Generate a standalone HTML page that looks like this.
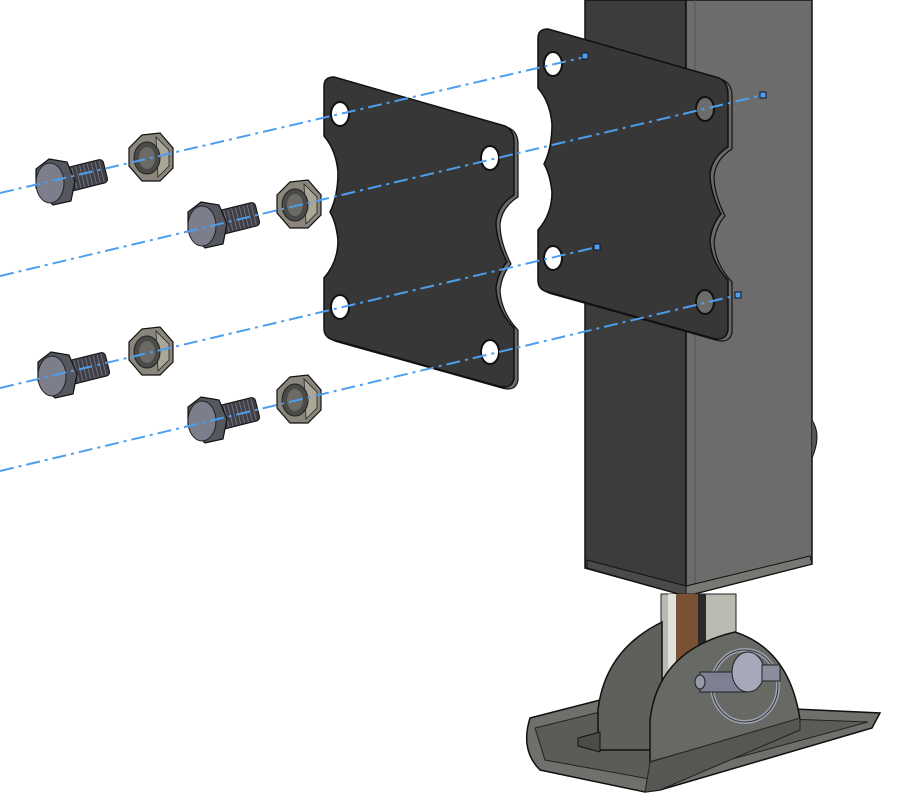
<!DOCTYPE html>
<html><head><meta charset="utf-8"><style>html,body{margin:0;padding:0;background:#fff}svg{display:block}</style></head>
<body>
<svg width="918" height="796" viewBox="0 0 918 796" xmlns="http://www.w3.org/2000/svg">
<defs>
<g id="bolt">
  <g transform="rotate(-14)">
    <rect x="4" y="-12" width="48" height="24" rx="4" fill="#3e3f46" stroke="#111" stroke-width="1"/>
    <path d="M8 -11 V11 M12 -11 V11 M16 -11 V11 M20 -11 V11 M24 -11 V11 M28 -11 V11 M32 -11 V11 M36 -11 V11 M40 -11 V11 M44 -11 V11 M48 -11 V11" stroke="#70717a" stroke-width="1"/>
  </g>
  <polygon points="-6,-24 12,-21 20,-2 16,18 -2,22 -19,5 -19,-14" fill="#55575f" stroke="#111" stroke-width="1.2"/>
  <ellipse cx="-5" cy="0" rx="14" ry="20" fill="#7c7e8c" stroke="#222" stroke-width="1"/>
</g>
<g id="nut">
  <polygon points="-8,-23 10,-25 23,-10 23,10 10,23 -8,23 -21,8 -21,-10" fill="#8a867c" stroke="#111" stroke-width="1.2"/>
  <polygon points="6,-21 19,-8 19,8 8,19" fill="#aaa698" stroke="#222" stroke-width="0.8"/>
  <ellipse cx="-3" cy="0" rx="13" ry="16" fill="#4a4a48" stroke="#222" stroke-width="1"/>
  <ellipse cx="-3" cy="0" rx="8" ry="11" fill="#6c6a64"/>
</g>
<path id="plate" d="M334 77 L505 126 Q514 130 514 142 L514 195 Q498 205 496 222 Q496 240 507 262 Q498 272 496 288 Q497 310 514 328 L514 378 Q512 390 498 386 L334 340 Q324 338 324 328 L324 278 Q338 262 338 240 Q336 222 330 212 Q338 196 338 172 Q336 150 324 136 L324 86 Q324 77 334 77 Z"/>
<g id="plateFull">
  <use href="#plate" x="4" y="2" fill="#6a6b68" stroke="#111" stroke-width="1.2"/>
  <use href="#plate" fill="#363736" stroke="#111" stroke-width="1.5"/>
</g>
</defs>

<!-- Post -->
<polygon points="585,0 686,0 686,596 585,568" fill="#3c3d3b" stroke="#111" stroke-width="1.5"/>
<polygon points="686,0 812,0 812,564 686,596" fill="#6c6d6a" stroke="#111" stroke-width="1.5"/>
<line x1="695" y1="0" x2="695" y2="594" stroke="#555" stroke-width="1"/>
<polygon points="587,560 686,586 686,596 587,568" fill="#4a4b48" stroke="#111"/>
<polygon points="686,586 810,556 812,564 686,596" fill="#777874" stroke="#111"/>
<path d="M812 420 Q822 435 812 458" fill="#555" stroke="#111"/>

<!-- Inner tube -->
<rect x="661" y="594" width="75" height="110" fill="#b9bbb0" stroke="#222"/>
<rect x="668" y="594" width="8" height="110" fill="#dfe2da"/>
<rect x="676" y="594" width="22" height="110" fill="#7a5233"/>
<rect x="698" y="594" width="8" height="110" fill="#2a2a2a"/>

<!-- Foot: base plate -->
<path d="M530 718 L600 700 L880 713 L872 728 L660 790 L645 792 L540 770 Q520 750 530 718 Z" fill="#6e706b" stroke="#111" stroke-width="1.5"/>
<path d="M535 728 L600 712 L868 722 L655 780 L545 760 Z" fill="#5a5c57" stroke="#222"/>
<path d="M598 750 L598 710 Q605 650 662 622 L662 750 Z" fill="#5e605b" stroke="#111" stroke-width="1.5"/>
<polygon points="578,738 600,732 600,752 578,746" fill="#4a4c48" stroke="#111"/>
<path d="M650 762 L650 720 Q658 650 735 632 Q790 650 800 720 L800 720 L650 762 Z" fill="#676964" stroke="#111" stroke-width="1.5"/>
<path d="M650 762 L645 792 L660 790 L800 730 L800 718 Z" fill="#555752" stroke="#222"/>
<ellipse cx="745" cy="686" rx="33" ry="36" fill="none" stroke="#9fa0b0" stroke-width="4"/>
<ellipse cx="745" cy="686" rx="33" ry="36" fill="none" stroke="#333" stroke-width="1"/>
<rect x="700" y="672" width="48" height="20" fill="#7d7f92" stroke="#222"/>
<ellipse cx="748" cy="672" rx="16" ry="20" fill="#a7a9bb" stroke="#222"/>
<ellipse cx="700" cy="682" rx="5" ry="7" fill="#9799a9" stroke="#222"/>
<rect x="762" y="665" width="18" height="16" fill="#8b8d9c" stroke="#222"/>

<!-- Back plate -->
<use href="#plateFull" x="214" y="-48"/>
<ellipse cx="553" cy="64" rx="9" ry="12" fill="#fff" stroke="#111" stroke-width="2"/>
<ellipse cx="705" cy="109" rx="9" ry="12" fill="#6c6d6a" stroke="#111" stroke-width="2"/>
<ellipse cx="553" cy="258" rx="9" ry="12" fill="#fff" stroke="#111" stroke-width="2"/>
<ellipse cx="705" cy="302" rx="9" ry="12" fill="#6c6d6a" stroke="#111" stroke-width="2"/>

<!-- Front plate -->
<use href="#plateFull"/>
<ellipse cx="340" cy="114" rx="9" ry="12" fill="#fff" stroke="#111" stroke-width="2"/>
<ellipse cx="490" cy="158" rx="9" ry="12" fill="#fff" stroke="#111" stroke-width="2"/>
<ellipse cx="340" cy="307" rx="9" ry="12" fill="#fff" stroke="#111" stroke-width="2"/>
<ellipse cx="490" cy="352" rx="9" ry="12" fill="#fff" stroke="#111" stroke-width="2"/>

<!-- Bolts and nuts -->
<use href="#bolt" x="55" y="183"/>
<use href="#nut" x="150" y="158"/>
<use href="#bolt" x="207" y="226"/>
<use href="#nut" x="298" y="205"/>
<use href="#bolt" x="57" y="376"/>
<use href="#nut" x="150" y="352"/>
<use href="#bolt" x="207" y="421"/>
<use href="#nut" x="298" y="400"/>

<!-- Center lines -->
<g stroke="#4d9fee" stroke-width="2" stroke-dasharray="14,5,3,5" fill="none">
  <line x1="0" y1="193" x2="585" y2="57"/>
  <line x1="0" y1="276" x2="763" y2="95"/>
  <line x1="0" y1="388" x2="597" y2="247"/>
  <line x1="0" y1="471" x2="738" y2="295"/>
</g>
<g fill="#4d9fee" stroke="#113" stroke-width="1">
  <rect x="582" y="53" width="6" height="6"/>
  <rect x="760" y="92" width="6" height="6"/>
  <rect x="594" y="244" width="6" height="6"/>
  <rect x="735" y="292" width="6" height="6"/>
</g>
</svg>
</body></html>
